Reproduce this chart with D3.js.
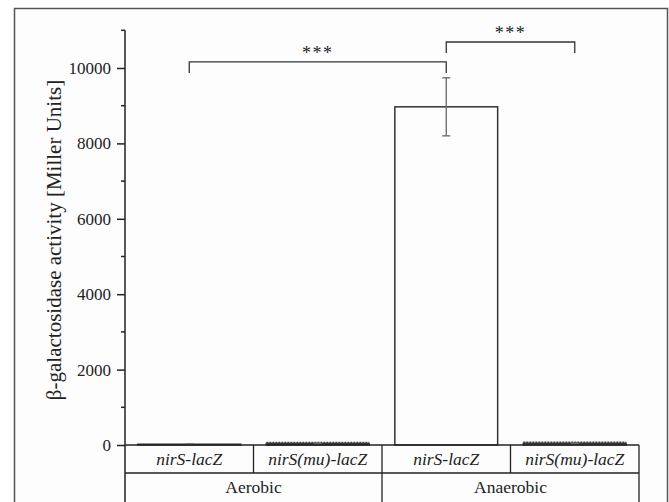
<!DOCTYPE html>
<html>
<head>
<meta charset="utf-8">
<script src="https://cdn.jsdelivr.net/npm/d3@7"></script>
<style>
  body { margin: 0; background: #fff; }
</style>
</head>
<body>
<div id="chart"></div>
<script>
// data
var conditions = ['Aerobic', 'Aerobic', 'Anaerobic', 'Anaerobic'];
var strains = ['nirS-lacZ', 'nirS(mu)-lacZ', 'nirS-lacZ', 'nirS(mu)-lacZ'];
var means = [20, 40, 8970, 45];
var errors = [3, 6, 770, 6];
var majorTicks = [0, 2000, 4000, 6000, 8000, 10000];
var minorTicks = [1000, 3000, 5000, 7000, 9000, 11000];
// significance brackets: [from bar, to bar, level]
var brackets = [[0, 2, 10160], [2, 3, 10690]];
var bracketLabels = ['***', '***'];

var width = 669;
var height = 502;
var left = 125, right = 639, baseline = 445;
var rowH = 28;
var serif = '"Liberation Serif", "Times New Roman", serif';

var svg = d3.select('#chart')
	.append('svg')
	.attr('width', width)
	.attr('height', height);

// outer frame
svg.append('rect')
	.attr('x', 14.5).attr('y', 8.5)
	.attr('width', 653).attr('height', 520)
	.attr('fill', '#fdfdfd')
	.attr('stroke', '#555')
	.attr('stroke-width', 1.5);

var x_scale = d3.scaleBand()
	.domain(d3.range(means.length))
	.range([left, right])
	.paddingInner(0.2)
	.paddingOuter(0.1);

var y_scale = d3.scaleLinear()
	.domain([0, 11000])
	.range([baseline, 30.3]);

// bars
svg.selectAll('rect.bar')
	.data(means)
	.enter()
	.append('rect')
	.attr('class', 'bar')
	.attr('x', function (d, i) { return x_scale(i); })
	.attr('y', function (d) { return y_scale(d); })
	.attr('width', x_scale.bandwidth())
	.attr('height', function (d) { return baseline - y_scale(d); })
	.attr('fill', 'none')
	.attr('stroke', '#333')
	.attr('stroke-width', 1.5);

// dashed tops on the mutant bars
svg.selectAll('line.dtop')
	.data(means.map(function (d, i) { return { v: d, i: i }; })
		.filter(function (d) { return strains[d.i].indexOf('(mu)') >= 0; }))
	.enter()
	.append('line')
	.attr('x1', function (d) { return x_scale(d.i); })
	.attr('x2', function (d) { return x_scale(d.i) + x_scale.bandwidth(); })
	.attr('y1', function (d) { return y_scale(d.v) - 1; })
	.attr('y2', function (d) { return y_scale(d.v) - 1; })
	.attr('stroke', '#444')
	.attr('stroke-width', 1.5)
	.attr('stroke-dasharray', '2,1');

// error bars
var cx = function (i) { return x_scale(i) + x_scale.bandwidth() / 2; };
var eb = svg.append('g').attr('stroke', '#666').attr('stroke-width', 1.3);
means.forEach(function (m, i) {
	var hi = y_scale(m + errors[i]), lo = y_scale(m - errors[i]);
	eb.append('line').attr('x1', cx(i)).attr('x2', cx(i)).attr('y1', hi).attr('y2', lo);
	eb.append('line').attr('x1', cx(i) - 4).attr('x2', cx(i) + 4).attr('y1', hi).attr('y2', hi);
	eb.append('line').attr('x1', cx(i) - 4).attr('x2', cx(i) + 4).attr('y1', lo).attr('y2', lo);
});

// y axis
var yAxis = svg.append('g')
	.attr('transform', 'translate(' + left + ',0)')
	.call(d3.axisLeft(y_scale).tickValues(majorTicks).tickFormat(d3.format('d'))
		.tickSize(8).tickSizeOuter(0).tickPadding(6));
yAxis.select('.domain').remove();
yAxis.selectAll('line').attr('stroke', '#222').attr('stroke-width', 1.5);
yAxis.selectAll('text')
	.style('font-family', serif)
	.style('font-size', '17px')
	.attr('fill', '#222');

svg.append('g')
	.selectAll('line')
	.data(minorTicks)
	.enter()
	.append('line')
	.attr('x1', left - 4).attr('x2', left)
	.attr('y1', function (d) { return y_scale(d); })
	.attr('y2', function (d) { return y_scale(d); })
	.attr('stroke', '#222').attr('stroke-width', 1.5);

// axis line running through the table
svg.append('line')
	.attr('x1', left).attr('x2', left)
	.attr('y1', y_scale(11000)).attr('y2', height)
	.attr('stroke', '#222').attr('stroke-width', 1.5);

svg.append('text')
	.attr('transform', 'translate(54,240) rotate(-90)')
	.attr('text-anchor', 'middle')
	.attr('dominant-baseline', 'central')
	.style('font-family', serif)
	.style('font-size', '21px')
	.attr('fill', '#222')
	.text('β-galactosidase activity [Miller Units]');

// table under the plot
var tbl = svg.append('g').attr('stroke', '#222').attr('stroke-width', 1.3);
tbl.append('line').attr('x1', left).attr('x2', right).attr('y1', baseline).attr('y2', baseline).attr('stroke-width', 1.5);
tbl.append('line').attr('x1', left).attr('x2', right).attr('y1', baseline + rowH).attr('y2', baseline + rowH);
tbl.append('line').attr('x1', right).attr('x2', right).attr('y1', baseline).attr('y2', height);
var step = x_scale.step();
means.forEach(function (m, i) {
	if (i === 0) return;
	var xb = left + step * i;
	var full = conditions[i] !== conditions[i - 1];
	tbl.append('line').attr('x1', xb).attr('x2', xb)
		.attr('y1', baseline).attr('y2', full ? height : baseline + rowH);
});

svg.selectAll('text.strain')
	.data(strains)
	.enter()
	.append('text')
	.attr('class', 'strain')
	.attr('x', function (d, i) { return left + step * (i + 0.5); })
	.attr('y', baseline + rowH / 2 + 6)
	.attr('text-anchor', 'middle')
	.style('font-family', serif)
	.style('font-size', '17.5px')
	.style('font-style', 'italic')
	.attr('fill', '#222')
	.text(function (d) { return d; });

var groups = Array.from(new Set(conditions));
svg.selectAll('text.cond')
	.data(groups)
	.enter()
	.append('text')
	.attr('class', 'cond')
	.attr('x', function (g) {
		var idx = conditions.map(function (c, i) { return c === g ? i : -1; }).filter(function (i) { return i >= 0; });
		return left + step * (d3.mean(idx) + 0.5);
	})
	.attr('y', baseline + rowH + 20)
	.attr('text-anchor', 'middle')
	.style('font-family', serif)
	.style('font-size', '17.5px')
	.attr('fill', '#222')
	.text(function (d) { return d; });

// significance brackets
var br = svg.append('g');
brackets.forEach(function (b, k) {
	var y = y_scale(b[2]);
	var yLeg = y_scale(b[2] - 290);
	br.append('path')
		.attr('d', 'M' + cx(b[0]) + ',' + yLeg + 'V' + y + 'H' + cx(b[1]) + 'V' + yLeg)
		.attr('fill', 'none')
		.attr('stroke', '#333')
		.attr('stroke-width', 1.3);
	br.append('text')
		.attr('x', (cx(b[0]) + cx(b[1])) / 2)
		.attr('y', y - 3)
		.attr('text-anchor', 'middle')
		.style('font-family', serif)
		.style('font-size', '18px')
		.attr('letter-spacing', 1.5)
		.attr('fill', '#222')
		.text(bracketLabels[k]);
});
</script>
</body>
</html>
